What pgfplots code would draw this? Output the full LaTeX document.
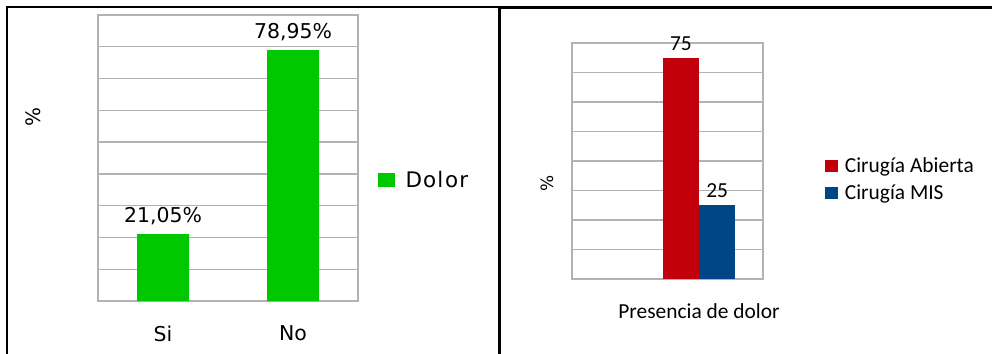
\documentclass[border=0pt]{standalone}
\usepackage{pgfplots}
\pgfplotsset{compat=1.18}
\usepackage{fontspec}
\setmainfont{DejaVu Sans}
\newfontfamily\carl{Carlito}
\definecolor{grn}{RGB}{0,200,0}
\definecolor{rd}{RGB}{194,0,11}
\definecolor{bl}{RGB}{0,69,134}
\definecolor{gridg}{RGB}{178,178,178}
\begin{document}
\begin{tikzpicture}
\useasboundingbox (0,0) rectangle (992bp,-354bp);
% frames
\draw[line width=2.2bp] (7bp,-354bp) -- (7bp,-7bp) -- (499bp,-7bp);
\draw[line width=2.2bp] (499bp,-7.5bp) -- (992bp,-7.5bp);
\draw[line width=3bp] (499.5bp,-6bp) -- (499.5bp,-354bp);
% left chart
\begin{axis}[
  at={(98bp,-301bp)}, anchor=south west,
  width=260bp, height=286bp, scale only axis,
  ybar, bar width=0.4,
  xmin=0.5, xmax=2.5, ymin=0, ymax=90,
  ytick={0,10,...,90}, yticklabels={},
  xtick={1,2}, xticklabels={Si,No},
  tick style={draw=none},
  ymajorgrids, major grid style={gridg, line width=1.3bp},
  axis line style={gridg, line width=1.6bp},
  font=\fontsize{20.5}{24}\selectfont,
  xticklabel style={yshift=-17bp},
  nodes near coords, point meta=explicit symbolic,
  every node near coord/.append style={font=\fontsize{20.5}{24}\selectfont, yshift=6bp},
  legend style={draw=none, at={(1.075,0.423)}, anchor=west, font=\fontsize{21.5}{24}\selectfont, inner sep=0pt,
    /tikz/every odd column/.append style={column sep=9bp}},
  legend image code/.code={\fill[#1] (0bp,-7bp) rectangle (17bp,7bp);},
]
\addplot[fill=grn, draw=none] coordinates {(1,21.05) [21{,}05\%] (2,78.95) [78{,}95\%]};
\addlegendentry{D\kern1bp o\kern1bp l\kern2bp o\kern1bp r}
\end{axis}
\node[rotate=90, font=\fontsize{20}{24}\selectfont] at (33bp,-117bp) {\%};
% right chart
\begin{axis}[
  at={(572bp,-279bp)}, anchor=south west,
  width=191bp, height=236bp, scale only axis,
  ybar=0pt, bar width=0.19,
  xmin=0, xmax=1, ymin=0, ymax=80,
  ytick={0,10,...,80}, yticklabels={},
  xtick={0.665}, xticklabels={Presencia de dolor},
  tick style={draw=none},
  ymajorgrids, major grid style={gridg, line width=1.3bp},
  axis line style={gridg, line width=1.6bp},
  font=\carl\fontsize{21.5}{24}\selectfont,
  xticklabel style={yshift=-17bp},
  nodes near coords,
  /pgf/number format/assume math mode=true,
  every node near coord/.append style={font=\carl\fontsize{21.5}{24}\selectfont, yshift=4bp},
  legend style={draw=none, at={(1.323,0.423)}, anchor=west, font=\carl\fontsize{21.5}{24}\selectfont, inner sep=0pt, row sep=7bp, legend cell align=left,
    /tikz/every odd column/.append style={column sep=5bp}},
  legend image code/.code={\fill[#1] (0bp,-6bp) rectangle (13bp,6bp);},
]
\addplot[fill=rd, draw=none] coordinates {(0.665,75)};
\addlegendentry{Cirugía Abierta}
\addplot[fill=bl, draw=none] coordinates {(0.665,25)};
\addlegendentry{Cirugía MIS}
\end{axis}
\node[rotate=90, font=\fontsize{17}{20}\selectfont] at (547bp,-183bp) {\%};
\end{tikzpicture}
\end{document}
